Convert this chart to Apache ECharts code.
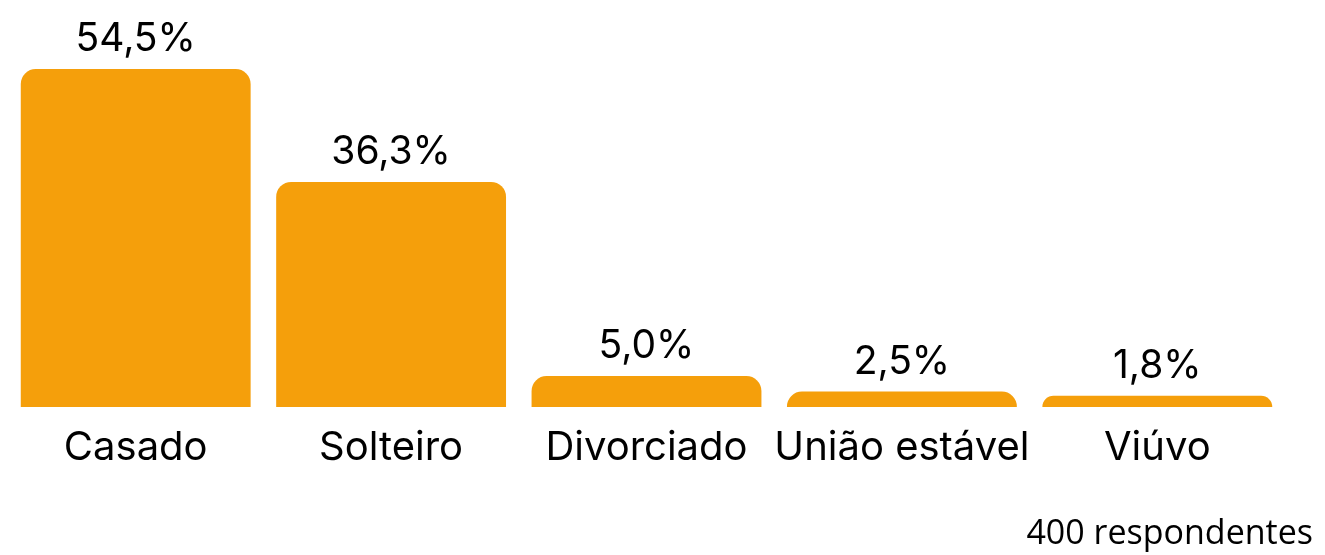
<!DOCTYPE html>
<html>
<head>
<meta charset="utf-8">
<script src="https://cdn.jsdelivr.net/npm/echarts@6/dist/echarts.min.js"></script>
<style>
html,body{margin:0;padding:0;background:#fff;}
#chart{width:1325px;height:555px;}
</style>
</head>
<body>
<div id="chart"></div>
<script>
const categories = ["Casado", "Solteiro", "Divorciado", "União estável", "Viúvo"];
const values = [54.5, 36.3, 5.0, 2.5, 1.8];
const footnote = "400 respondentes";

const chart = echarts.init(document.getElementById('chart'));
chart.setOption({
  animation: false,
  grid: { left: 8, right: 40, top: 35, bottom: 148, containLabel: false },
  xAxis: {
    type: 'category',
    data: categories,
    axisLine: { show: false },
    axisTick: { show: false },
    axisLabel: { color: '#000', fontFamily: 'Inter', fontSize: 40, margin: 21, interval: 0 }
  },
  yAxis: { type: 'value', min: 0, max: 60, show: false, splitLine: { show: false } },
  series: [{
    type: 'bar',
    data: values,
    barCategoryGap: '10%',
    itemStyle: { color: '#F59F0B', borderRadius: [15, 15, 0, 0] },
    label: {
      show: true,
      position: 'top',
      distance: 10,
      color: '#000',
      fontFamily: 'Inter',
      fontSize: 39,
      formatter: p => p.value.toFixed(1).replace('.', ',') + '%'
    }
  }],
  graphic: [{
    type: 'text',
    right: 12,
    top: 517,
    style: { text: footnote, fill: '#000', font: '34px "Open Sans"' }
  }]
});
</script>
</body>
</html>
